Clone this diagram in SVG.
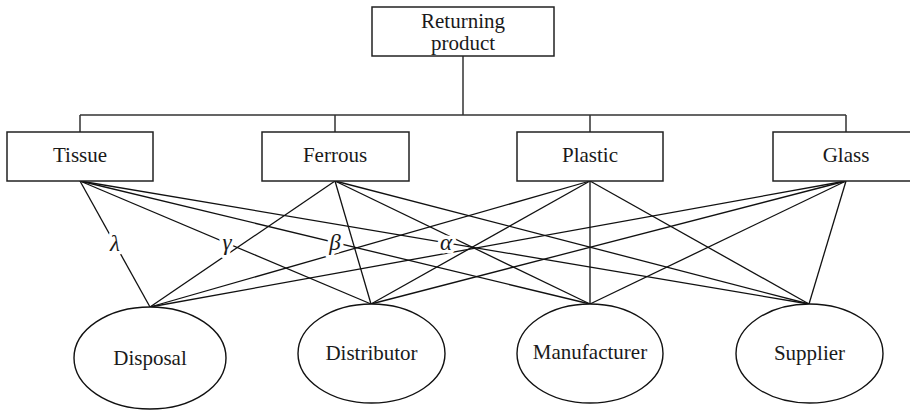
<svg xmlns="http://www.w3.org/2000/svg" width="910" height="412" viewBox="0 0 910 412">
  <style>
    .box { fill: #fff; stroke: #222; stroke-width: 1.5; }
    .oval { fill: #fff; stroke: #111; stroke-width: 1.4; }
    .tree { fill: none; stroke: #333; stroke-width: 1.5; }
    .link { stroke: #111; stroke-width: 1.3; fill: none; }
    .lbl { font-family: "Liberation Serif", "DejaVu Serif", serif; font-size: 21px; fill: #1a1a1a; text-anchor: middle; }
    .greek { font-family: "Liberation Serif", "DejaVu Serif", serif; font-size: 23px; font-style: italic; fill: #1a1a1a; text-anchor: middle; stroke: #fff; stroke-width: 7; paint-order: stroke; stroke-linejoin: round; }
  </style>
  <rect width="910" height="412" fill="#fff"/>

  <!-- hierarchy connectors and bipartite links -->
  <g id="connectors">
    <path class="tree" d="M463,56 V115 M80,115 H846 M80,115 V132 M335,115 V132 M590,115 V132 M846,115 V132"/>
    <!-- Tissue -->
    <line class="link" x1="80" y1="181" x2="150" y2="307"/>
    <line class="link" x1="80" y1="181" x2="371" y2="304"/>
    <line class="link" x1="80" y1="181" x2="590" y2="304"/>
    <line class="link" x1="80" y1="181" x2="809" y2="304"/>
    <!-- Ferrous -->
    <line class="link" x1="335" y1="181" x2="150" y2="307"/>
    <line class="link" x1="335" y1="181" x2="371" y2="304"/>
    <line class="link" x1="335" y1="181" x2="590" y2="304"/>
    <line class="link" x1="335" y1="181" x2="809" y2="304"/>
    <!-- Plastic -->
    <line class="link" x1="590" y1="181" x2="150" y2="307"/>
    <line class="link" x1="590" y1="181" x2="371" y2="304"/>
    <line class="link" x1="590" y1="181" x2="590" y2="304"/>
    <line class="link" x1="590" y1="181" x2="809" y2="304"/>
    <!-- Glass -->
    <line class="link" x1="846" y1="181" x2="150" y2="307"/>
    <line class="link" x1="846" y1="181" x2="371" y2="304"/>
    <line class="link" x1="846" y1="181" x2="590" y2="304"/>
    <line class="link" x1="846" y1="181" x2="809" y2="304"/>
    <!-- weights on the Tissue links -->
    <text class="greek" x="115" y="251">λ</text>
    <text class="greek" x="227" y="250">γ</text>
    <text class="greek" x="335" y="250">β</text>
    <text class="greek" x="446" y="250">α</text>
  </g>

  <g id="returning-product">
    <rect class="box" x="372" y="7" width="182" height="49"/>
    <text class="lbl" x="463" y="28">Returning</text>
    <text class="lbl" x="463" y="50">product</text>
  </g>

  <g id="tissue">
    <rect class="box" x="7" y="132" width="146" height="49"/>
    <text class="lbl" x="80" y="162">Tissue</text>
  </g>
  <g id="ferrous">
    <rect class="box" x="262" y="132" width="147" height="49"/>
    <text class="lbl" x="335" y="162">Ferrous</text>
  </g>
  <g id="plastic">
    <rect class="box" x="517" y="132" width="146" height="49"/>
    <text class="lbl" x="590" y="162">Plastic</text>
  </g>
  <g id="glass">
    <rect class="box" x="773" y="132" width="146" height="49"/>
    <text class="lbl" x="846" y="162">Glass</text>
  </g>

  <g id="disposal">
    <ellipse class="oval" cx="150" cy="358" rx="76" ry="51"/>
    <text class="lbl" x="150" y="365">Disposal</text>
  </g>
  <g id="distributor">
    <ellipse class="oval" cx="371.5" cy="353.5" rx="73.5" ry="49.5"/>
    <text class="lbl" x="371.5" y="360">Distributor</text>
  </g>
  <g id="manufacturer">
    <ellipse class="oval" cx="590" cy="353.5" rx="73" ry="49.5"/>
    <text class="lbl" x="590" y="359">Manufacturer</text>
  </g>
  <g id="supplier">
    <ellipse class="oval" cx="809.5" cy="353.5" rx="73.5" ry="49.5"/>
    <text class="lbl" x="809.5" y="360">Supplier</text>
  </g>
</svg>
